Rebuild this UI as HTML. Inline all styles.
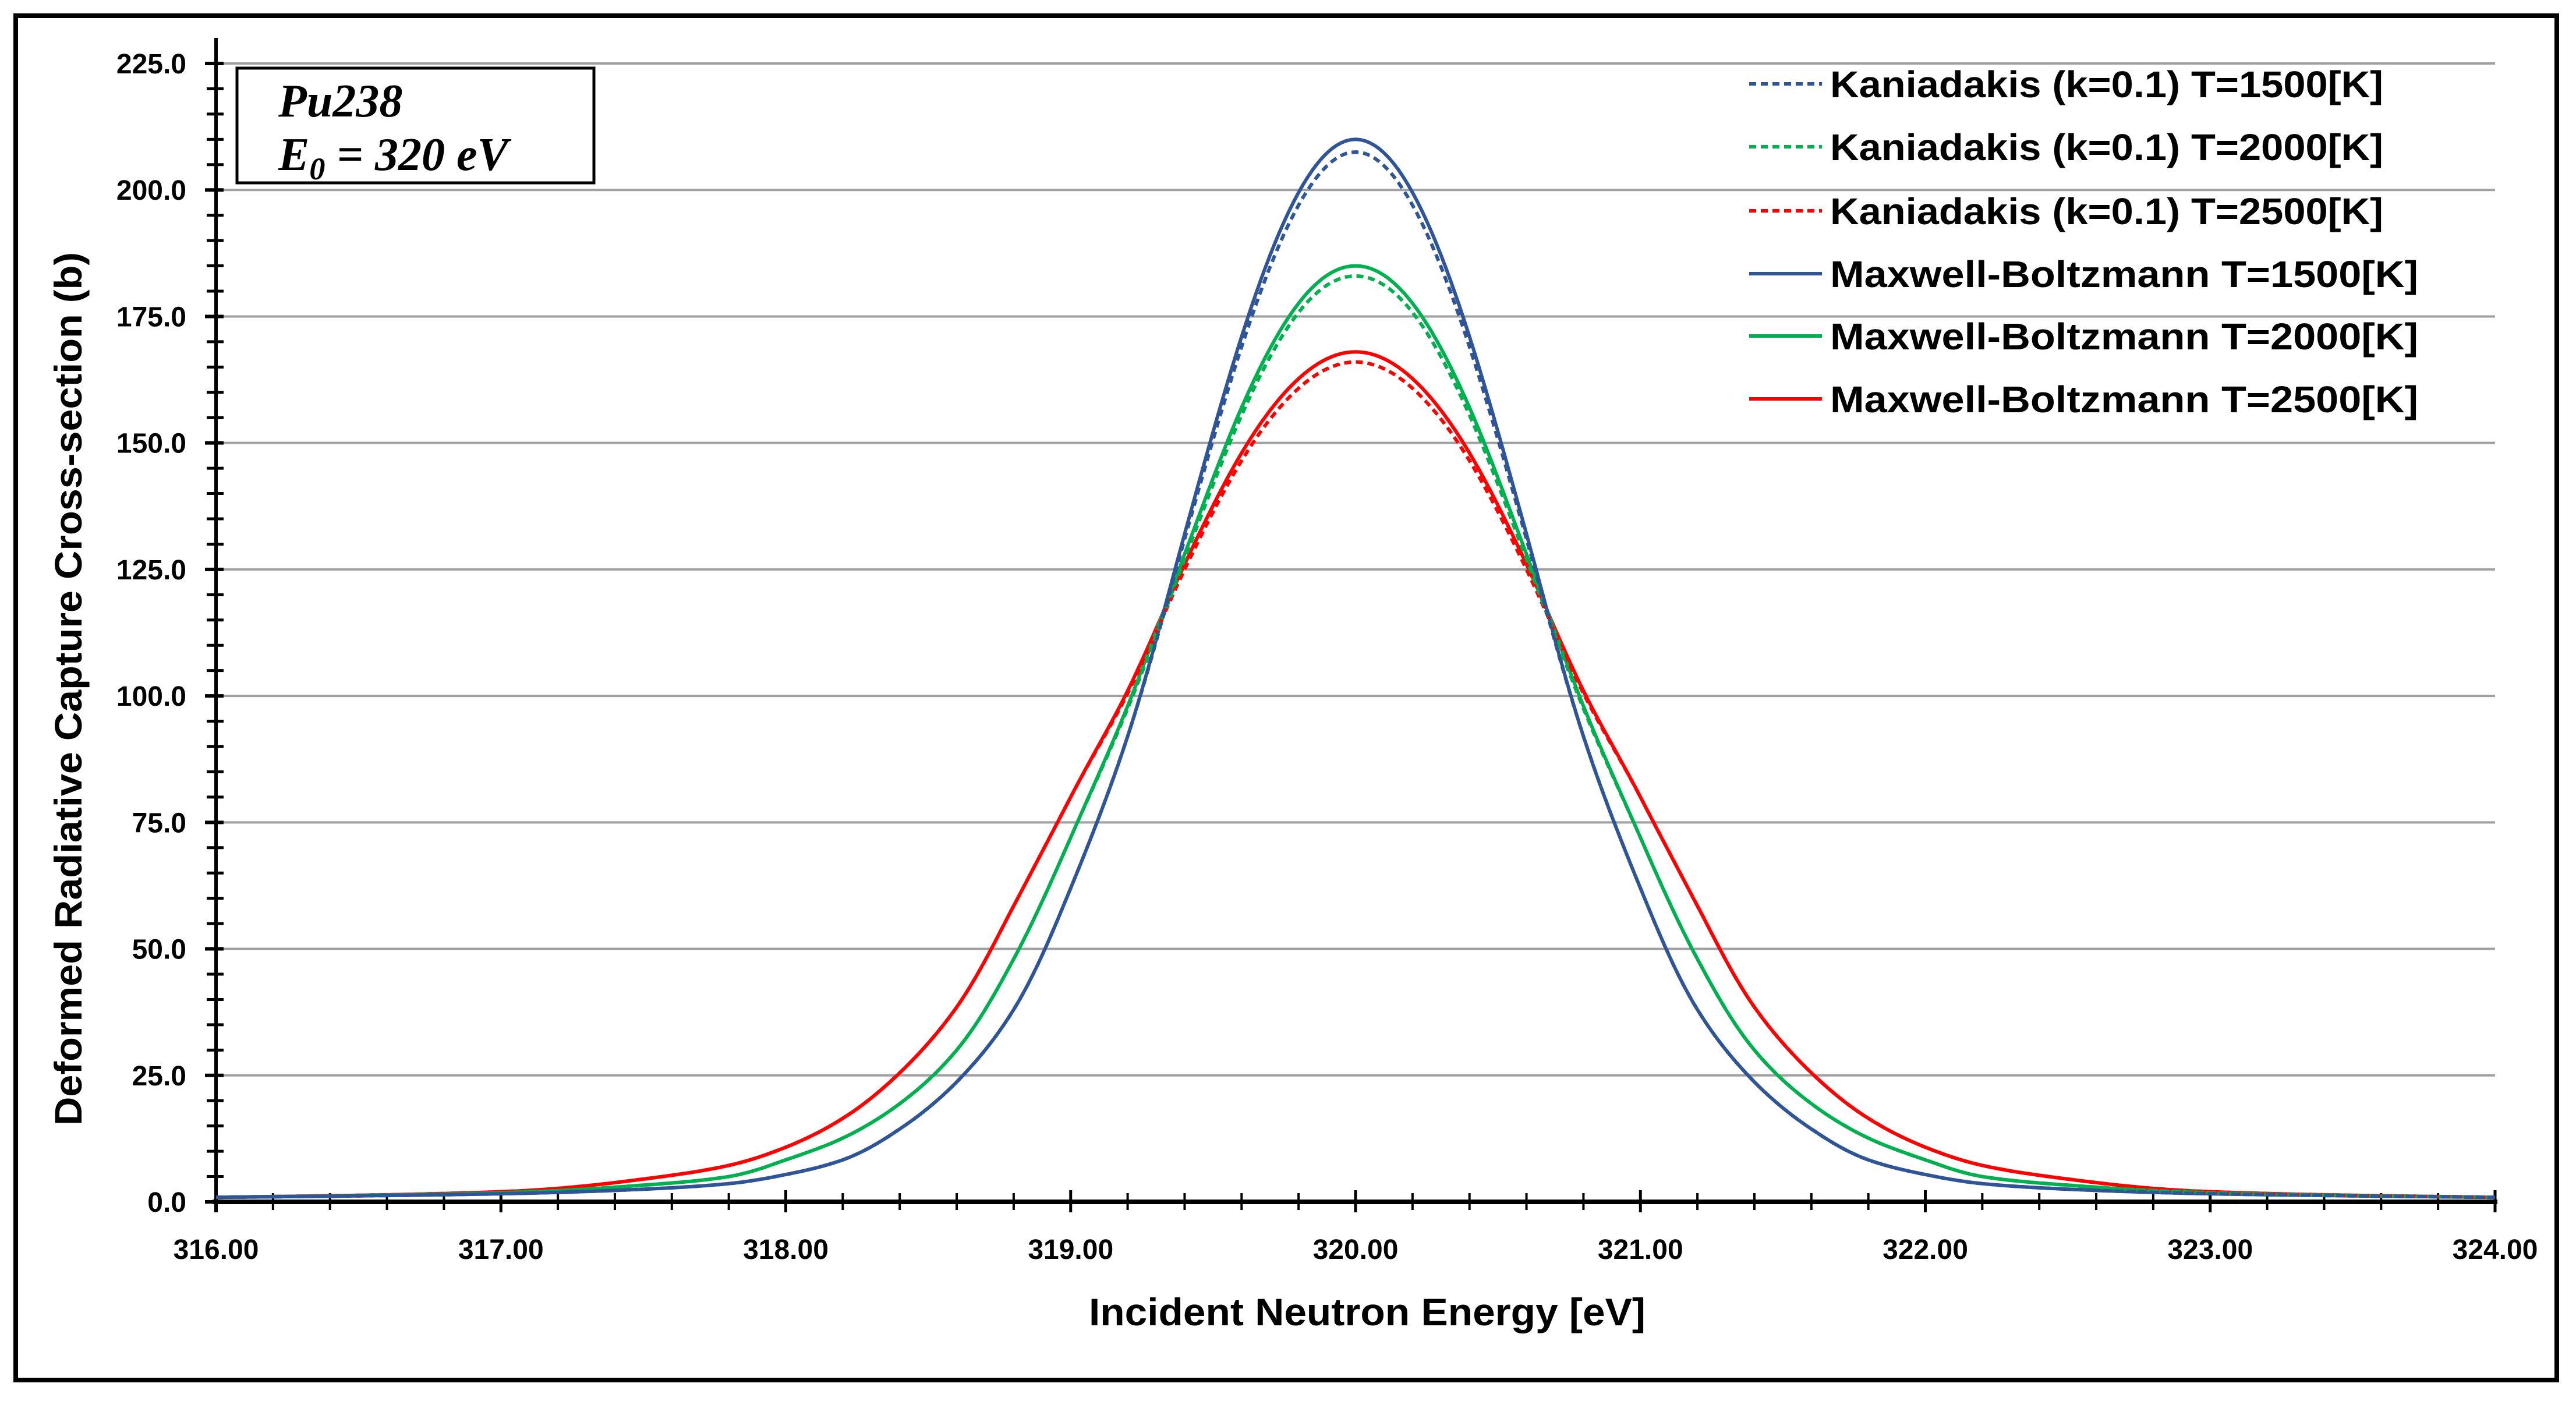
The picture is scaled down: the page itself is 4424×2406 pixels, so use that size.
<!DOCTYPE html>
<html><head><meta charset="utf-8"><style>
html,body{margin:0;padding:0;background:#fff}
svg{display:block}
text{font-family:"Liberation Sans",sans-serif;font-weight:bold;fill:#000}
</style></head><body>
<svg id="chart" width="4424" height="2406" viewBox="0 0 4424 2406" xmlns="http://www.w3.org/2000/svg">
<rect x="27" y="27" width="4364" height="2343" fill="#fff" stroke="#000" stroke-width="8"/>
<g id="grid"></g>
<g id="axes"></g>
<g id="series"></g>
<g>
<rect x="407" y="117" width="613" height="197" fill="#fff" stroke="#000" stroke-width="5"/>
<text x="478" y="200" font-style="italic" font-size="80" style="font-family:'Liberation Serif',serif">Pu238</text>
<text x="478" y="292" font-style="italic" font-size="80" style="font-family:'Liberation Serif',serif">E<tspan font-size="54" dy="16">0</tspan><tspan dy="-16"> = 320 eV</tspan></text>
</g>
<g id="legend"></g>
<text x="2348" y="2276" font-size="66" text-anchor="middle" textLength="956" lengthAdjust="spacingAndGlyphs">Incident Neutron Energy [eV]</text>
<text transform="translate(140,1183) rotate(-90)" font-size="66" text-anchor="middle" textLength="1500" lengthAdjust="spacingAndGlyphs">Deformed Radiative Capture Cross-section (b)</text>
</svg>
<script>
const energies=[316,317,317.5,317.8,318,318.2,318.4,318.6,318.8,319,319.2,319.4,319.6,319.8,320,320.2,320.4,320.6,320.8,321,321.2,321.4,321.6,321.8,322,322.2,322.5,323,324];
const mb1500=[0.9,1.6,2.5,3.6,5.4,8.3,14.4,23.7,38,62,92,132,171,199.5,210,199.5,171,132,92,62,38,23.7,14.4,8.3,5.4,3.6,2.5,1.6,0.9];
const k1500=[0.9,1.6,2.5,3.6,5.4,8.3,14.4,23.7,38,62,92,131,169,197,207.5,197,169,131,92,62,38,23.7,14.4,8.3,5.4,3.6,2.5,1.6,0.9];
const mb2000=[0.9,1.8,3.3,5,8.3,12.6,19.4,30,48,72,98,128,157,177.6,185,177.6,157,128,98,72,48,30,19.4,12.6,8.3,5,3.3,1.8,0.9];
const k2000=[0.9,1.8,3.3,5,8.3,12.6,19.4,30,48,72,97.5,127,155.5,175.8,183,175.8,155.5,127,97.5,72,48,30,19.4,12.6,8.3,5,3.3,1.8,0.9];
const mb2500=[0.9,2.0,4.5,7.2,10.8,16.5,25.5,38.5,58.5,80,101,126,148,162.7,168,162.7,148,126,101,80,58.5,38.5,25.5,16.5,10.8,7.2,4.5,2.0,0.9];
const k2500=[0.9,2.0,4.5,7.2,10.8,16.5,25.5,38.5,58.5,80,100.5,125,146.5,160.8,166,160.8,146.5,125,100.5,80,58.5,38.5,25.5,16.5,10.8,7.2,4.5,2.0,0.9];
const yTicks=[0,25,50,75,100,125,150,175,200,225];
const yTickLabels=["0.0","25.0","50.0","75.0","100.0","125.0","150.0","175.0","200.0","225.0"];
const xTicks=[316,317,318,319,320,321,322,323,324];
const xTickLabels=["316.00","317.00","318.00","319.00","320.00","321.00","322.00","323.00","324.00"];
const legendLabels=["Kaniadakis (k=0.1) T=1500[K]","Kaniadakis (k=0.1) T=2000[K]","Kaniadakis (k=0.1) T=2500[K]","Maxwell-Boltzmann T=1500[K]","Maxwell-Boltzmann T=2000[K]","Maxwell-Boltzmann T=2500[K]"];

const NS="http://www.w3.org/2000/svg";
const X0=371,X1=4285,Y0=2064,Y1=109;
const xs=v=>X0+(v-316)/8*(X1-X0);
const ys=v=>Y0-v/225*(Y0-Y1);
function mk(tag,parent,attrs){const e=document.createElementNS(NS,tag);for(const k in attrs)e.setAttribute(k,attrs[k]);parent.appendChild(e);return e;}
const grid=document.getElementById('grid'),axes=document.getElementById('axes'),ser=document.getElementById('series'),leg=document.getElementById('legend');
yTicks.forEach((t,i)=>{
  if(t>0){const g=mk('line',grid,{x1:X0,x2:X1,y1:ys(t),y2:ys(t),stroke:'#a0a0a0','stroke-width':4});
  
  }
  const tx=mk('text',axes,{x:320,y:ys(t)+17,'font-size':48,'text-anchor':'end'});tx.textContent=yTickLabels[i];
  
  
});
for(let v=0;v<=225;v+=5){const maj=v%25===0;mk('line',axes,{x1:maj?352:355,x2:384,y1:ys(v),y2:ys(v),stroke:'#000','stroke-width':maj?6:5});}
mk('line',axes,{x1:X0,x2:X0,y1:65,y2:Y0+18,stroke:'#000','stroke-width':6});
for(let k=0;k<=40;k++){const v=316+k*0.2;const maj=k%5===0;mk('line',axes,{x1:xs(v),x2:xs(v),y1:maj?Y0-20:Y0-15,y2:maj?Y0+18:Y0+14,stroke:'#000','stroke-width':maj?5:4});}
mk('line',axes,{x1:X0-6,x2:X1+4,y1:Y0,y2:Y0,stroke:'#000','stroke-width':8});
xTicks.forEach((t,i)=>{const tx=mk('text',axes,{x:xs(t),y:2162,'font-size':48,'text-anchor':'middle'});tx.textContent=xTickLabels[i];
  
  });
function pathD(vals){
  const P=energies.map((e,i)=>[e,Math.log(vals[i])]);
  const pts=[];
  for(let i=0;i<P.length-1;i++){
    const p0=P[Math.max(i-1,0)],p1=P[i],p2=P[i+1],p3=P[Math.min(i+2,P.length-1)];
    const h=p2[0]-p1[0];
    const m1=(p2[1]-p0[1])/(p2[0]-p0[0]||1),m2=(p3[1]-p1[1])/(p3[0]-p1[0]||1);
    const n=Math.max(4,Math.round(h*60));
    for(let k=0;k<n;k++){
      const t=k/n,t2=t*t,t3=t2*t;
      const y=(2*t3-3*t2+1)*p1[1]+(t3-2*t2+t)*h*m1+(-2*t3+3*t2)*p2[1]+(t3-t2)*h*m2;
      pts.push([xs(p1[0]+t*h),ys(Math.exp(y))]);
    }
  }
  const l=P[P.length-1];pts.push([xs(l[0]),ys(Math.exp(l[1]))]);
  return 'M'+pts.map(p=>p[0].toFixed(1)+','+p[1].toFixed(1)).join(' L');
}
const BL='#2F5597',GR='#00B050',RD='#FF0000';
const seriesList=[[mb2500,RD,false,'mb-2500-line'],[mb2000,GR,false,'mb-2000-line'],[mb1500,BL,false,'mb-1500-line'],[k2500,RD,true,'kaniadakis-2500-line'],[k2000,GR,true,'kaniadakis-2000-line'],[k1500,BL,true,'kaniadakis-1500-line']];
seriesList.forEach(s=>{const a={d:pathD(s[0]),fill:'none',stroke:s[1],'stroke-width':6,'stroke-linejoin':'round'};if(s[2])a['stroke-dasharray']='12 8';
  const p=mk('path',ser,a);
  
  });
const legC=[BL,GR,RD,BL,GR,RD],legY=[144,252,362,470,577,685],legW=[950,950,950,1010,1010,1010];
legendLabels.forEach((l,i)=>{
  const g=mk('g',leg,{});
  
  
  const a={x1:3004,x2:3129,y1:legY[i],y2:legY[i],stroke:legC[i],'stroke-width':6};if(i<3)a['stroke-dasharray']='12 8';
  mk('line',g,a);
  const t=mk('text',g,{x:3143,y:legY[i]+23,'font-size':64,textLength:legW[i],lengthAdjust:'spacingAndGlyphs'});t.textContent=l;
});
</script>
</body></html>
